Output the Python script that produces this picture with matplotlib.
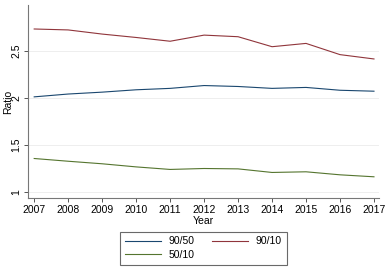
import matplotlib.pyplot as plt

plt.rcParams['font.family'] = ['Liberation Sans', 'DejaVu Sans']

years = [2007, 2008, 2009, 2010, 2011, 2012, 2013, 2014, 2015, 2016, 2017]
r90_50 = [2.01, 2.04, 2.06, 2.085, 2.10, 2.13, 2.12, 2.10, 2.11, 2.08, 2.07]
r90_10 = [2.73, 2.72, 2.676, 2.64, 2.60, 2.665, 2.648, 2.542, 2.577, 2.458, 2.412]
r50_10 = [1.356, 1.327, 1.30, 1.267, 1.24, 1.25, 1.246, 1.208, 1.215, 1.183, 1.162]
yticks = [1, 1.5, 2, 2.5]

fig = plt.figure(figsize=(3.9, 2.75), dpi=100)
ax = fig.add_axes([0.072, 0.28, 0.9, 0.702])

l1, = ax.plot(years, r90_50, color='#1a476f', lw=0.8, label='90/50')
l2, = ax.plot(years, r90_10, color='#90353b', lw=0.8, label='90/10')
l3, = ax.plot(years, r50_10, color='#55752f', lw=0.8, label='50/10')

ax.set_xlim(2006.82, 2017.15)
ax.set_ylim(0.937, 2.985)
ax.set_xticks(years)
ax.set_yticks(yticks)
ax.set_yticklabels(['1', '1.5', '2', '2.5'], rotation=90, va='center')
ax.tick_params(labelsize=7.5, color='#555555', length=3, width=0.7, pad=2)
ax.grid(axis='y', color='#eeeeee', lw=0.7)
ax.set_axisbelow(True)
for s in ['top', 'right']:
    ax.spines[s].set_visible(False)
for s in ['left', 'bottom']:
    ax.spines[s].set_color('#777777')
    ax.spines[s].set_linewidth(0.8)

ax.set_xlabel('Year', fontsize=7.5, labelpad=1)
ax.set_ylabel('Ratio', fontsize=7.5)
ax.yaxis.set_label_coords(-0.044, 0.5)

leg = fig.legend([l1, l3, l2], ['90/50', '50/10', '90/10'], ncol=2,
                 loc='center', bbox_to_anchor=(0.521, 0.098), fontsize=7.5,
                 frameon=True, fancybox=False, edgecolor='#444444',
                 handlelength=3.5, handletextpad=0.7, columnspacing=1.7,
                 labelspacing=0.35, borderpad=0.45)
leg.get_frame().set_linewidth(0.8)

fig.savefig('out.png', dpi=100)
